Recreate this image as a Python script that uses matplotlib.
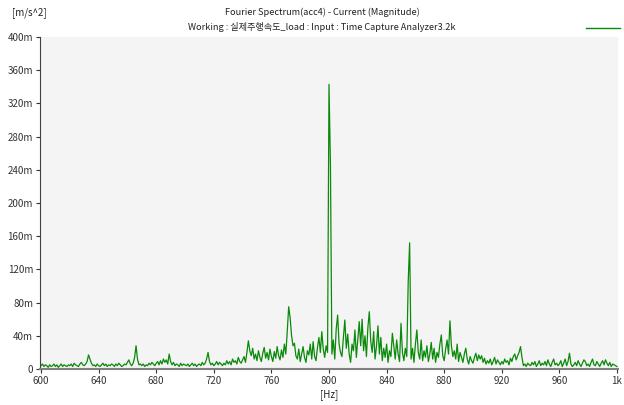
import numpy as np
import matplotlib.pyplot as plt
from matplotlib.lines import Line2D
from matplotlib.ticker import FuncFormatter

plt.rcParams['font.family'] = ['Noto Sans CJK KR', 'DejaVu Sans']

## spectrum data, 1 Hz steps from 600 Hz to 1 kHz, magnitude in m(m/s^2)
freq_start = 600
freq_step = 1
magnitude = [
    4, 6, 3, 5, 4, 2, 5, 3, 4, 6,          # 600
    3, 5, 2, 4, 6, 3, 5, 4, 3, 5,          # 610
    4, 6, 3, 7, 5, 4, 3, 6, 8, 5,          # 620
    4, 6, 9, 17, 12, 7, 4, 5, 3, 6,        # 630
    4, 3, 5, 7, 4, 6, 3, 5, 4, 6,          # 640
    5, 3, 6, 4, 7, 5, 3, 4, 6, 5,          # 650
    8, 11, 6, 4, 7, 14, 28, 12, 5, 6,      # 660
    4, 6, 3, 5, 4, 7, 5, 8, 6, 4,          # 670
    7, 9, 5, 10, 6, 12, 8, 11, 6, 18,      # 680
    9, 5, 8, 4, 6, 5, 3, 7, 4, 6,          # 690
    5, 4, 6, 3, 5, 7, 4, 6, 3, 5,          # 700
    6, 4, 8, 5, 7, 12, 20, 9, 5, 7,        # 710
    4, 6, 9, 5, 8, 6, 4, 7, 5, 10,         # 720
    6, 9, 5, 12, 8, 10, 6, 14, 9, 7,       # 730
    11, 15, 8, 20, 34, 22, 16, 25, 12, 18, # 740
    10, 22, 14, 9, 19, 26, 13, 20, 11, 24, # 750
    15, 9, 21, 13, 27, 16, 11, 23, 14, 30, # 760
    18, 45, 75, 62, 40, 28, 31, 16, 12, 24, # 770
    9, 18, 27, 14, 8, 22, 17, 30, 12, 33,  # 780
    15, 10, 26, 38, 20, 45, 24, 14, 28, 20, # 790
    343, 245, 18, 35, 12, 48, 65, 30, 20, 15, # 800
    38, 59, 25, 42, 18, 8, 30, 22, 47, 14, # 810
    35, 57, 28, 60, 22, 40, 15, 50, 69, 33, # 820
    20, 45, 12, 28, 52, 18, 38, 10, 25, 14, # 830
    30, 8, 22, 15, 43, 28, 12, 35, 18, 9,  # 840
    55, 20, 10, 25, 15, 105, 152, 12, 25, 8, # 850
    30, 47, 20, 12, 35, 10, 22, 14, 28, 9, # 860
    18, 32, 12, 25, 8, 20, 14, 30, 41, 16, # 870
    10, 24, 35, 18, 58, 28, 15, 22, 12, 30, # 880
    9, 20, 14, 8, 18, 25, 12, 6, 15, 10,   # 890
    7, 14, 19, 10, 17, 12, 16, 8, 13, 6,   # 900
    10, 7, 12, 5, 9, 14, 6, 11, 8, 5,      # 910
    9, 6, 12, 8, 10, 5, 13, 9, 15, 18,     # 920
    11, 16, 20, 27, 14, 4, 6, 3, 7, 5,     # 930
    4, 8, 5, 9, 3, 6, 10, 4, 7, 5,         # 940
    9, 4, 11, 6, 3, 8, 12, 5, 7, 4,        # 950
    6, 10, 3, 7, 12, 4, 9, 19, 6, 3,       # 960
    5, 8, 4, 10, 6, 3, 7, 11, 9, 4,        # 970
    6, 3, 8, 12, 5, 4, 9, 6, 3, 7,         # 980
    10, 5, 11, 7, 4, 8, 3, 6, 5, 4,        # 990
    3,                                     # 1000
]

x_ticks = [600, 640, 680, 720, 760, 800, 840, 880, 920, 960, 1000]
x_tick_labels = ['600', '640', '680', '720', '760', '800', '840', '880', '920', '960', '1k']
y_ticks = [0, 40, 80, 120, 160, 200, 240, 280, 320, 360, 400]

freq = freq_start + freq_step * np.arange(len(magnitude))
mag = np.array(magnitude) / 1000.0  # m/s^2

fig = plt.figure(figsize=(6.24, 4.05), dpi=100)
ax = fig.add_axes([40/624, 36/405, 578/624, 332/405])
ax.set_facecolor('#f4f4f4')

ax.plot(freq, mag, color='#0a8a0a', lw=0.9)

ax.set_xlim(599.3, 1000.7)
ax.set_ylim(0, 0.4)
ax.set_xticks(x_ticks)
ax.set_xticklabels(x_tick_labels)
ax.set_yticks([v / 1000.0 for v in y_ticks])
ax.yaxis.set_major_formatter(FuncFormatter(lambda v, p: '0' if v == 0 else '%dm' % round(v * 1000)))
ax.tick_params(labelsize=7, length=3, width=0.8, colors='#333333', pad=2)

for s in ['top', 'right']:
    ax.spines[s].set_visible(False)
ax.spines['left'].set_color('#404040')
ax.spines['left'].set_linewidth(0.8)
ax.spines['bottom'].set_color('#808080')
ax.spines['bottom'].set_linewidth(1.5)

# header texts
fig.text(322/624, 1 - 12/405, 'Fourier Spectrum(acc4) - Current (Magnitude)',
         ha='center', va='center', fontsize=6.6, color='#222222')
fig.text(322/624, 1 - 27/405, 'Working : 실제주행속도_load : Input : Time Capture Analyzer3.2k',
         ha='center', va='center', fontsize=6.6, color='#222222')
fig.text(12/624, 1 - 13/405, '[m/s^2]', ha='left', va='center', fontsize=7, color='#222222')
fig.text(329/624, 1 - 395/405, '[Hz]', ha='center', va='center', fontsize=7, color='#222222')

# legend line
fig.add_artist(Line2D([586/624, 620/624], [1 - 28/405, 1 - 28/405], color='#0a8a0a', lw=1))

fig.savefig('out.png', dpi=100)
